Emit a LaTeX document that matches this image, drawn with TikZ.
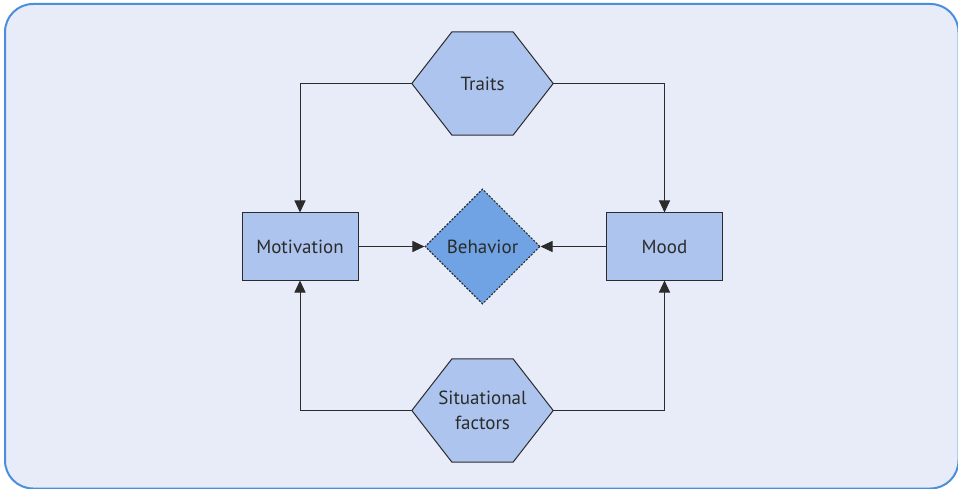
\documentclass[tikz,border=0pt]{standalone}
\usepackage{fontspec}
\setmainfont{PT Sans}
\usepackage{tikz}
\usetikzlibrary{shapes.geometric,arrows.meta,backgrounds,calc}
\definecolor{framebg}{HTML}{E8ECF8}
\definecolor{frameline}{HTML}{4A8FDC}
\definecolor{boxfill}{HTML}{ADC5EE}
\definecolor{diafill}{HTML}{6FA3E3}
\definecolor{inkgray}{HTML}{2B2B2B}
\tikzset{
  frame/.style={draw=frameline, fill=framebg, line width=2pt, rounded corners=28pt},
  box/.style={draw=inkgray, fill=boxfill, line width=1pt, minimum width=116pt,
    minimum height=67pt, inner sep=0pt},
  hexa/.style={minimum width=141pt, minimum height=103pt, inner sep=0pt, align=center},
  hexline/.style={draw=inkgray, fill=boxfill, line width=1pt},
  behav/.style={diamond, draw=inkgray, fill=diafill, dash pattern=on 2pt off 1.5pt,
    line width=1.1pt, minimum width=115pt, minimum height=115pt, inner sep=0pt},
  link/.style={draw=inkgray, line width=1pt, -{Triangle[length=12pt,width=11pt]}}
}

\begin{document}
\begin{tikzpicture}[x=1pt, y=-1pt, font=\fontsize{19}{25}\selectfont, text=inkgray]
    \useasboundingbox (0,0) rectangle (958,489);

    \node[hexa] (traits) at (482.5,83.5) {Traits};
    \node[hexa] (sitfac) at (482.5,410.5) {Situational\\factors};
    \node[box] (motiv) at (300,246.5) {Motivation};
    \node[box] (mood) at (664.5,246.5) {Mood};
    \node[behav] (behav) at (482.5,246.5) {Behavior};

    \begin{scope}[on background layer]
    \draw[frame] (5,4) rectangle (958.5,488.5);
    \foreach \n in {traits,sitfac}
      \draw[hexline] (\n.west)
        -- ($(\n.north west)!0.284!(\n.north east)$)
        -- ($(\n.north east)!0.284!(\n.north west)$)
        -- (\n.east)
        -- ($(\n.south east)!0.284!(\n.south west)$)
        -- ($(\n.south west)!0.284!(\n.south east)$) -- cycle;
    \end{scope}

    \draw[link] (traits.west) -| (motiv.north);
    \draw[link] (traits.east) -| (mood.north);
    \draw[link] (sitfac.west) -| (motiv.south);
    \draw[link] (sitfac.east) -| (mood.south);
    \draw[link] (motiv) -- (behav);
    \draw[link] (mood) -- (behav);
\end{tikzpicture}
\end{document}
